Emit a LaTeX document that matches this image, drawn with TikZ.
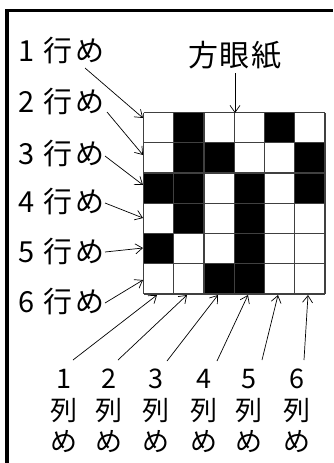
\documentclass[tikz,border=0pt]{standalone}
\usepackage{fontspec}
\setmainfont{Noto Sans CJK JP}
\usetikzlibrary{arrows.meta}
\begin{document}
\begin{tikzpicture}[x=1pt,y=-1pt,
  rowlab/.style={font=\fontsize{29}{29}\selectfont, inner sep=0pt, anchor=west},
  collab/.style={font=\fontsize{27}{31.5}\selectfont, inner sep=0pt, align=center},
  arr/.style={-{Straight Barb[length=7pt,width=10pt]}, line width=0.7pt},
  gl/.style={draw=black!75, line width=1.1pt},
  frame/.style={line width=3.5pt, line join=miter}]
\useasboundingbox (0,0) rectangle (333,463);
% frame
\draw[frame] (7,463) -- (7,10.5) -- (333,10.5);
% grid cells
\foreach \c/\r in {2/1,5/1,2/2,3/2,6/2,1/3,2/3,4/3,6/3,2/4,4/4,1/5,4/5,3/6,4/6}
  \fill (143.5+\c*30.25-30.25, 112.5+\r*30.25-30.25) rectangle ++(30.25,30.25);
\foreach \i in {0,...,6} {
  \draw[gl] (143.5+\i*30.25,112.5) -- ++(0,181.5);
  \draw[gl] (143.5,112.5+\i*30.25) -- ++(181.5,0);
}
% row labels
\node[rowlab] (r1) at (18,51) {1\hspace{9pt}行\hspace{3pt}め};
\node[rowlab] (r2) at (18,102) {2\hspace{9pt}行\hspace{3pt}め};
\node[rowlab] (r3) at (18,154) {3\hspace{9pt}行\hspace{3pt}め};
\node[rowlab] (r4) at (18,202) {4\hspace{9pt}行\hspace{3pt}め};
\node[rowlab] (r5) at (18,252) {5\hspace{9pt}行\hspace{3pt}め};
\node[rowlab] (r6) at (18,302) {6\hspace{9pt}行\hspace{3pt}め};
\node[font=\fontsize{30}{30}\selectfont, inner sep=0pt] (hg) at (235,55) {方\hspace{2pt}眼\hspace{2pt}紙};
% arrow coordinates
\coordinate (s1) at (85,68);   \coordinate (e1) at (143,118);
\coordinate (s2) at (107,112); \coordinate (e2) at (143,155);
\coordinate (s3) at (105,156); \coordinate (e3) at (143,185);
\coordinate (s4) at (105,203); \coordinate (e4) at (143,218);
\coordinate (s5) at (105,252); \coordinate (e5) at (143,248);
\coordinate (s6) at (105,303); \coordinate (e6) at (143,280);
\foreach \k in {1,...,6} \draw[arr] (s\k) -- (e\k);
\coordinate (hs) at (235,73); \coordinate (he) at (235,113);
\draw[arr] (hs) -- (he);
% column labels
\node[collab] (c1) at (64,411) {1\\列\\め};
\node[collab] (c2) at (109,411) {2\\列\\め};
\node[collab] (c3) at (156,411) {3\\列\\め};
\node[collab] (c4) at (204,411) {4\\列\\め};
\node[collab] (c5) at (249,411) {5\\列\\め};
\node[collab] (c6) at (297,411) {6\\列\\め};
\coordinate (t1) at (73,360);  \coordinate (u1) at (157,295);
\coordinate (t2) at (118,360); \coordinate (u2) at (187,295);
\coordinate (t3) at (167,361); \coordinate (u3) at (218,295);
\coordinate (t4) at (217,361); \coordinate (u4) at (248,295);
\coordinate (t5) at (262,360); \coordinate (u5) at (278,295);
\coordinate (t6) at (304,360); \coordinate (u6) at (308,295);
\foreach \k in {1,...,6} \draw[arr] (t\k) -- (u\k);
\end{tikzpicture}
\end{document}
